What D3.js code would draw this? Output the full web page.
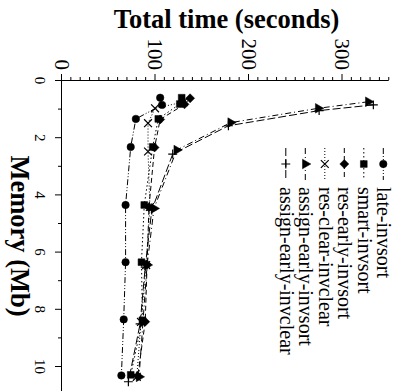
<!DOCTYPE html>
<html lang="en">
<head>
<meta charset="utf-8">
<title>Total time vs memory</title>
<script src="https://d3js.org/d3.v7.min.js"></script>
<style>
    body { margin: 0; background: #fff; }
</style>
</head>
<body>
<script>

    // series names, as in the key
    var names = ["late-invsort", "smart-invsort", "res-early-invsort",
        "res-clear-invclear", "assign-early-invsort", "assign-early-invclear"];

    // memory (Mb) of each run
    var memLate = [0.62, 0.87, 1.36, 2.34, 4.37, 6.37, 8.37, 10.33];
    var memSmart = [0.62, 0.84, 1.36, 2.34, 4.37, 6.37, 8.40, 10.31];
    var memResEarly = [0.64, 0.85, 1.38, 2.36, 4.45, 6.45, 8.45, 10.35];
    var memResClear = [0.77, 0.99, 1.51, 2.50, 4.44, 6.47, 8.46, 10.38];
    var memAssignSort = [0.76, 0.99, 1.49, 2.45, 4.49, 6.47, 8.46, 10.38];
    var memAssignClear = [0.87, 1.07, 1.60, 2.59, 4.55, 6.54, 8.53, 10.55];

    // total time (seconds) of each run
    var timeLate = [105, 107, 79, 73.5, 68, 68, 66, 63.5];
    var timeSmart = [128, 126, 103, 97, 88, 85, 86, 73.5];
    var timeResEarly = [137, 131, 105, 99, 93, 91, 89, 81];
    var timeResClear = [130, 99.5, 92, 92, 94, 90, 84.5, 80];
    var timeAssignSort = [327.6, 274, 180.4, 122.7, 98.4, 91, 86.6, 82.4];
    var timeAssignClear = [333, 275, 178, 118.4, 96, 89, 83.5, 71];

    var memTicks = [0, 2, 4, 6, 8, 10];
    var timeTicks = [0, 100, 200, 300];

    var mems = [memLate, memSmart, memResEarly, memResClear, memAssignSort, memAssignClear];
    var times = [timeLate, timeSmart, timeResEarly, timeResClear, timeAssignSort, timeAssignClear];

    var symbols = [
        { type: d3.symbolCircle, size: 44, fill: true },
        { type: d3.symbolSquare, size: 46, fill: true },
        { type: d3.symbolDiamond2, size: 52, fill: true },
        { type: d3.symbolX, size: 42, fill: false },
        { type: d3.symbolTriangle, size: 40, fill: true },
        { type: d3.symbolPlus, size: 28, fill: false }
    ];
    var dashes = ["6,2,1,2,1,2", "1.5,2.5", "5,3", "1,2", "6,3,1,3", "8,3"];

    var serif = "'Liberation Serif', 'Times New Roman', Times, serif";

    // page is 396 x 391, the plot is drawn upright (391 wide, 396 high) and turned a quarter
    var w = 396,
        h = 391;

    var svg = d3.select("body")
        .append("svg")
        .attr("width", w)
        .attr("height", h);

    var g = svg.append("g")
        .attr("transform", "translate(" + w + ",0) rotate(90)");

    var xScale = d3.scaleLinear()
        .domain([0, 11])
        .range([80, 80 + 28.6 * 11]);

    var yScale = d3.scaleLinear()
        .domain([0, 350])
        .range([334, 334 - 0.935 * 350]);

    // memory axis
    var xAxis = g.append("g")
        .attr("transform", "translate(0,334)")
        .call(d3.axisBottom(xScale).tickValues(memTicks).tickSize(7).tickPadding(9.5).tickSizeOuter(0));
    g.append("g")
        .attr("transform", "translate(0,334)")
        .call(d3.axisBottom(xScale).tickValues([1, 3, 5, 7, 9]).tickSize(4).tickFormat(""))
        .select(".domain").remove();
    xAxis.selectAll("text")
        .attr("font-family", serif)
        .attr("font-size", "15px");

    // time axis
    var yAxis = g.append("g")
        .attr("transform", "translate(80,0)")
        .call(d3.axisLeft(yScale).tickValues(timeTicks).tickSize(6).tickPadding(4).tickSizeOuter(0));
    g.append("g")
        .attr("transform", "translate(80,0)")
        .call(d3.axisLeft(yScale)
            .tickValues(d3.range(10, 351, 10).filter(function (d) { return d % 100 !== 0; }))
            .tickSize(3).tickFormat(""))
        .select(".domain").remove();
    yAxis.selectAll("text")
        .attr("font-family", serif)
        .attr("font-size", "21px");

    g.selectAll(".domain, .tick line")
        .attr("stroke", "#000")
        .attr("stroke-width", 1);

    // titles
    g.append("text")
        .attr("x", 236)
        .attr("y", 385.5)
        .attr("text-anchor", "middle")
        .attr("font-family", serif)
        .attr("font-weight", "bold")
        .attr("font-size", "26.5px")
        .text("Memory (Mb)");

    g.append("text")
        .attr("transform", "translate(28,169.5) rotate(-90)")
        .attr("text-anchor", "middle")
        .attr("font-family", serif)
        .attr("font-weight", "bold")
        .attr("font-size", "26.5px")
        .text("Total time (seconds)");

    var line = d3.line()
        .x(function (d) { return xScale(d[0]); })
        .y(function (d) { return yScale(d[1]); });

    function marker(sel, i) {
        sel.attr("d", d3.symbol().type(symbols[i].type).size(symbols[i].size))
            .attr("fill", symbols[i].fill ? "#000" : "none")
            .attr("stroke", "#000")
            .attr("stroke-width", symbols[i].fill ? 0.5 : 1.2);
    }

    names.forEach(function (name, i) {
        var pts = d3.zip(mems[i], times[i]);
        g.append("path")
            .attr("d", line(pts))
            .attr("fill", "none")
            .attr("stroke", "#000")
            .attr("stroke-width", 1)
            .attr("stroke-dasharray", dashes[i]);
        g.selectAll(".m" + i).data(pts)
            .enter()
            .append("path")
            .attr("class", "m" + i)
            .attr("transform", function (d) {
                return "translate(" + xScale(d[0]) + "," + yScale(d[1]) + ")";
            })
            .call(marker, i);
    });

    // key
    var key = g.selectAll(".key").data(names)
        .enter()
        .append("g")
        .attr("class", "key")
        .attr("transform", function (d, i) {
            return "translate(0," + (12.7 + i * 19.5) + ")";
        });
    key.append("line")
        .attr("x1", 148)
        .attr("x2", 180)
        .attr("stroke", "#000")
        .attr("stroke-dasharray", function (d, i) { return dashes[i]; });
    key.append("path")
        .attr("transform", "translate(164,0)")
        .each(function (d, i) { d3.select(this).call(marker, i); });
    key.append("text")
        .attr("x", 187)
        .attr("y", 6)
        .attr("font-family", serif)
        .attr("font-size", "20px")
        .text(function (d) { return d; });

</script>
</body>
</html>
